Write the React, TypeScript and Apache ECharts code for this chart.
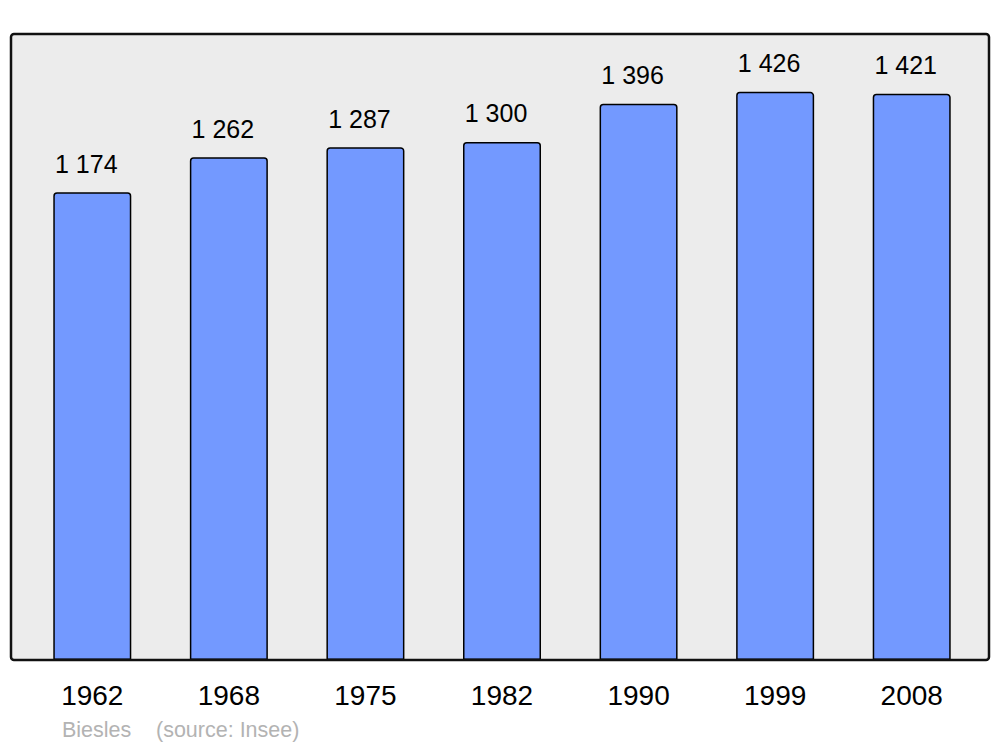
import React, { useEffect, useRef } from "react";
import * as echarts from "echarts";

const years = ["1962", "1968", "1975", "1982", "1990", "1999", "2008"];
const population = [1174, 1262, 1287, 1300, 1396, 1426, 1421];
const placeName = "Biesles";
const sourceText = "(source: Insee)";

const fmt = (v: number) => {
  const s = String(Math.round(v));
  return s.replace(/\B(?=(\d{3})+(?!\d))/g, " ");
};

export default function App() {
  const ref = useRef<HTMLDivElement>(null);
  useEffect(() => {
    if (!ref.current) return;
    const chart = echarts.init(ref.current, undefined, { renderer: "svg" });
    const font = "'Liberation Sans', Arial, sans-serif";
    chart.setOption({
      animation: false,
      textStyle: { fontFamily: font },
      grid: { left: 24, right: 20, top: 34, bottom: 87, containLabel: false },
      xAxis: {
        type: "category",
        data: years,
        axisLine: { show: false },
        axisTick: { show: false },
        axisLabel: { fontSize: 28, color: "#000", margin: 21, fontFamily: font },
      },
      yAxis: {
        type: "value",
        min: 0,
        max: 1571,
        show: false,
        splitLine: { show: false },
      },
      graphic: [
        {
          type: "rect",
          z: -10,
          shape: { x: 11, y: 34, width: 978, height: 626, r: 3 },
          style: { fill: "#ececec", stroke: "none" },
        },
        {
          type: "rect",
          z: 100,
          shape: { x: 11, y: 34, width: 978, height: 626, r: 3 },
          style: { fill: "none", stroke: "#111", lineWidth: 2.5 },
        },
        {
          type: "text",
          x: 62,
          y: 719,
          style: { text: placeName, fontSize: 21.5, fill: "#b3b3b3", fontFamily: font },
        },
        {
          type: "text",
          x: 156,
          y: 719,
          style: { text: sourceText, fontSize: 21.5, fill: "#b3b3b3", fontFamily: font },
        },
      ],
      series: [
        {
          type: "bar",
          data: population,
          barWidth: 78,
          itemStyle: {
            color: "#7399ff",
            borderColor: "#000",
            borderWidth: 1.5,
            borderRadius: [3, 3, 0, 0],
          },
          label: {
            show: true,
            position: "top",
            distance: 16,
            offset: [-6, 0],
            fontSize: 25,
            color: "#000",
            fontFamily: font,
            formatter: (p: any) => fmt(p.value),
          },
        },
      ],
    });
    return () => chart.dispose();
  }, []);
  return <div ref={ref} style={{ width: 1000, height: 747, position: "absolute", left: 0, top: 0 }} />;
}
